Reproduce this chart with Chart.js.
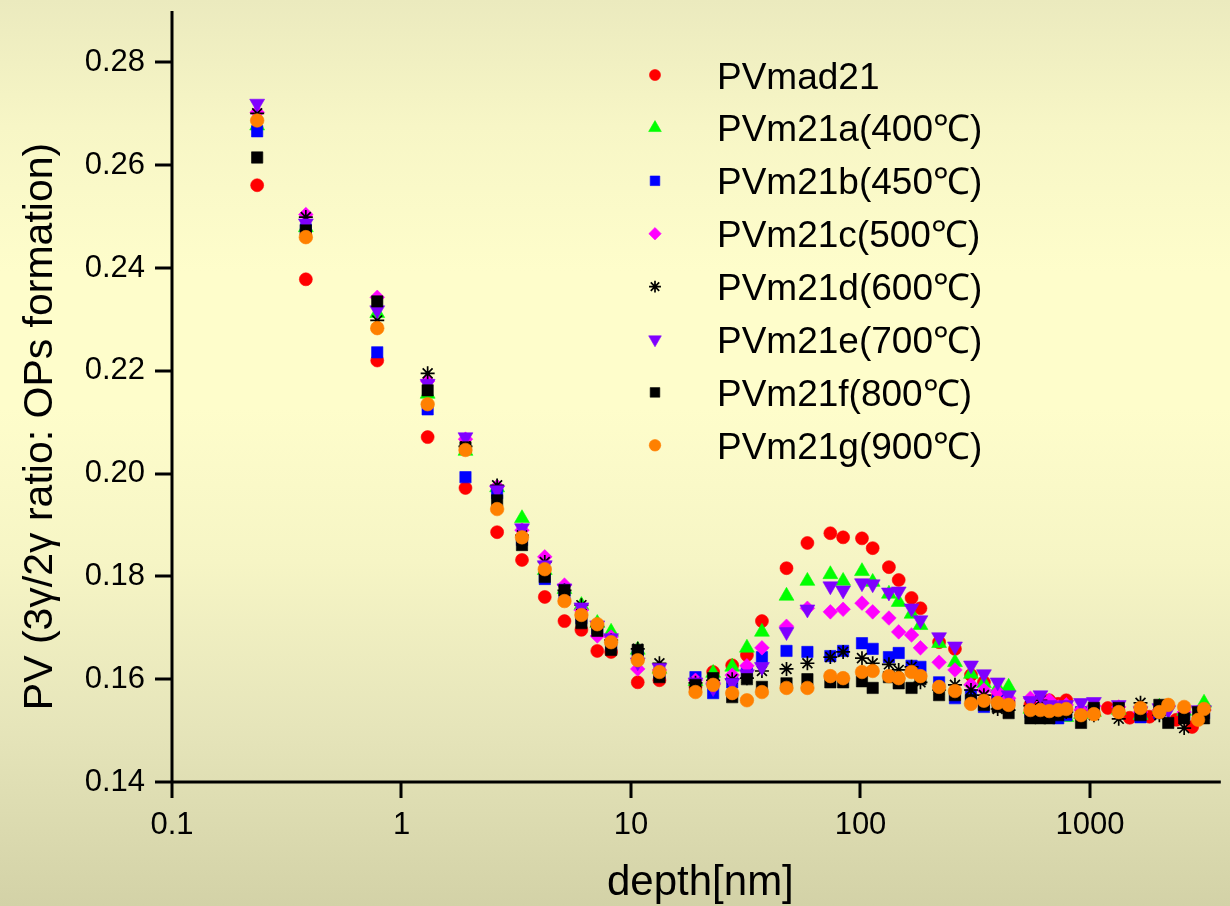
<!DOCTYPE html>
<html>
<head>
<meta charset="utf-8">
<title>PV vs depth</title>
<script src="https://cdn.jsdelivr.net/npm/chart.js@4/dist/chart.umd.min.js"></script>
<style>
  html, body { margin: 0; padding: 0; }
  body {
    width: 1230px;
    height: 906px;
    overflow: hidden;
    background: linear-gradient(to bottom, #ebeabe 0%, #f7f6c6 14%, #fefdcb 30%, #fefdcb 45%, #f6f5c5 62%, #e6e5ba 80%, #d3d2a7 100%);
  }
  canvas { display: block; }
</style>
</head>
<body>
<canvas id="pv-chart" width="1230" height="906"></canvas>
<script>
// depth [nm] of each measuring point
const depth = [
  0.235, 0.383, 0.784, 1.30, 1.90, 2.61, 3.35, 4.21, 5.13, 6.08,
  7.13, 8.19, 10.7, 13.3, 19.1, 22.8, 27.6, 32.0, 37.2, 47.6,
  58.7, 73.9, 84.0, 101.5, 113, 133, 146.7, 166.9, 182.5, 220,
  258, 303, 345, 396, 442, 550, 608, 665, 727, 788,
  914, 1040, 1196, 1334, 1489, 1660, 1816, 2006, 2193, 2376, 2572, 2786, 2958, 3140
];

const pvMad21 = [
  0.2561, 0.2378, 0.2220, 0.2071, 0.1972, 0.1886, 0.1832, 0.1760, 0.1713, 0.1696,
  0.1655, 0.1653, 0.1594, 0.1598, 0.1585, 0.1614, 0.1627, 0.1647, 0.1713, 0.1816,
  0.1865, 0.1884, 0.1876, 0.1874, 0.1855, 0.1818, 0.1793, 0.1758, 0.1738, 0.1672,
  0.1659, 0.1608, 0.1594, 0.1566, 0.1556, 0.1550, 0.1550, 0.1559, 0.1552, 0.1559,
  null, null, 0.1544, null, 0.1525, null, 0.1527, null, null, 0.1521, null, 0.1507, null, null
];
const pvM21a = [
  0.2677, 0.2479, 0.2312, 0.2155, 0.2044, 0.1973, 0.1913, 0.1812, 0.1775, 0.1744,
  0.1709, 0.1692, 0.1657, 0.1620, 0.1596, 0.1612, 0.1624, 0.1661, 0.1692, 0.1762,
  0.1791, 0.1804, 0.1791, 0.1810, 0.1789, 0.1766, 0.1750, 0.1727, 0.1705, 0.1670,
  0.1633, 0.1610, 0.1592, 0.1583, 0.1585, 0.1542, 0.1540, 0.1534, 0.1530, 0.1526,
  0.1532, 0.1536, null, 0.1540, null, 0.1530, null, 0.1546, null, null, 0.1538, null, null, 0.1554
];
const pvM21b = [
  0.2666, 0.2475, 0.2236, 0.2125, 0.1993, 0.1962, 0.1871, 0.1795, 0.1760, 0.1719,
  0.1699, 0.1666, 0.1647, 0.1612, 0.1604, 0.1573, 0.1594, 0.1612, 0.1643, 0.1655,
  0.1653, 0.1645, 0.1655, 0.1670, 0.1659, 0.1643, 0.1651, 0.1626, 0.1624, 0.1594,
  0.1563, 0.1569, 0.1546, 0.1559, 0.1552, 0.1536, 0.1536, 0.1536, 0.1524, 0.1530,
  0.1536, 0.1540, null, 0.1540, null, 0.1526, null, 0.1534, null, null, 0.1532, null, null, 0.1534
];
const pvM21c = [
  0.2703, 0.2504, 0.2343, 0.2180, 0.2067, 0.1975, 0.1890, 0.1838, 0.1783, 0.1734,
  0.1684, 0.1682, 0.1620, 0.1618, 0.1598, 0.1594, 0.1608, 0.1626, 0.1661, 0.1703,
  0.1738, 0.1731, 0.1736, 0.1748, 0.1731, 0.1719, 0.1692, 0.1686, 0.1661, 0.1633,
  0.1618, 0.1589, 0.1579, 0.1575, 0.1563, 0.1563, 0.1561, 0.1559, 0.1546, 0.1550,
  0.1540, 0.1548, null, 0.1546, null, 0.1536, null, 0.1540, null, null, 0.1536, null, null, 0.1540
];
const pvM21d = [
  0.2701, 0.2499, 0.2298, 0.2195, 0.2053, 0.1977, 0.1880, 0.1828, 0.1773, 0.1744,
  0.1703, 0.1676, 0.1659, 0.1631, 0.1593, 0.1598, 0.1600, 0.1602, 0.1616, 0.1620,
  0.1631, 0.1643, 0.1653, 0.1641, 0.1631, 0.1629, 0.1618, 0.1624, 0.1594, 0.1579,
  0.1589, 0.1579, 0.1569, 0.1542, 0.1540, 0.1548, 0.1559, 0.1540, 0.1536, 0.1536,
  0.1530, 0.1530, null, 0.1523, null, 0.1554, null, 0.1530, null, null, 0.1505, null, null, 0.1540
];
const pvM21e = [
  0.2720, 0.2487, 0.2318, 0.2175, 0.2071, 0.1968, 0.1894, 0.1822, 0.1777, 0.1740,
  0.1705, 0.1680, 0.1633, 0.1622, 0.1594, 0.1583, 0.1593, 0.1610, 0.1624, 0.1692,
  0.1736, 0.1781, 0.1773, 0.1787, 0.1785, 0.1769, 0.1771, 0.1738, 0.1715, 0.1682,
  0.1664, 0.1627, 0.1610, 0.1594, 0.1569, 0.1558, 0.1569, 0.1550, 0.1548, 0.1550,
  0.1554, 0.1556, null, 0.1550, null, 0.1538, null, 0.1544, 0.1540, null, null, null, 0.1540, 0.1540
];
const pvM21f = [
  0.2615, 0.2473, 0.2335, 0.2162, 0.2051, 0.1948, 0.1861, 0.1799, 0.1773, 0.1709,
  0.1694, 0.1657, 0.1657, 0.1604, 0.1589, 0.1602, 0.1565, 0.1600, 0.1585, 0.1592,
  0.1600, 0.1594, 0.1594, 0.1596, 0.1583, 0.1604, 0.1592, 0.1583, 0.1600, 0.1569,
  0.1569, 0.1559, 0.1550, 0.1546, 0.1534, 0.1524, 0.1524, 0.1524, 0.1530, 0.1536,
  0.1515, 0.1544, null, 0.1544, null, 0.1530, null, 0.1550, 0.1515, null, 0.1524, null, 0.1536, 0.1524
];
const pvM21g = [
  0.2687, 0.2460, 0.2283, 0.2135, 0.2046, 0.1931, 0.1876, 0.1814, 0.1752, 0.1725,
  0.1707, 0.1672, 0.1637, 0.1614, 0.1575, 0.1589, 0.1573, 0.1559, 0.1575, 0.1583,
  0.1583, 0.1606, 0.1602, 0.1614, 0.1616, 0.1606, 0.1602, 0.1614, 0.1606, 0.1585,
  0.1577, 0.1552, 0.1558, 0.1554, 0.1550, 0.1540, 0.1540, 0.1538, 0.1540, 0.1542,
  0.1530, 0.1532, null, 0.1536, null, 0.1544, null, 0.1536, 0.1550, null, 0.1546, null, 0.1521, 0.1542
];

const seriesValues = [pvMad21, pvM21a, pvM21b, pvM21c, pvM21d, pvM21e, pvM21f, pvM21g];
const seriesNames = [
  'PVmad21', 'PVm21a(400℃)', 'PVm21b(450℃)', 'PVm21c(500℃)',
  'PVm21d(600℃)', 'PVm21e(700℃)', 'PVm21f(800℃)', 'PVm21g(900℃)'
];
const seriesColors = ['#ff0000', '#00ff00', '#0000ff', '#ff00ff', '#000000', '#8000ff', '#000000', '#ff8000'];
const seriesShapes = ['circle', 'triangle', 'rect', 'rectRot', 'star', 'triangle', 'rect', 'circle'];
const seriesRotation = [0, 0, 0, 0, 0, 180, 0, 0];
const seriesRadius = [6.5, 8.6, 8, 7.3, 7, 8.6, 8, 6.8];

const xMajorTicks = [0.1, 1, 10, 100, 1000];
const xMinorSteps = [2, 3, 4, 5, 6, 7, 8, 9];
const xMax = 3715;
const yTicks = [0.14, 0.15, 0.16, 0.17, 0.18, 0.19, 0.20, 0.21, 0.22, 0.23, 0.24, 0.25, 0.26, 0.27, 0.28, 0.29];
const yLabelTicks = [0.14, 0.16, 0.18, 0.20, 0.22, 0.24, 0.26, 0.28];

const xTitle = 'depth[nm]';
const yTitle = 'PV (3γ/2γ ratio: OPs formation)';

const fontFamily = '"Liberation Sans", Arial, Helvetica, sans-serif';

// major decades plus the 2..9 minor marks inside the axis range
const xTickValues = [];
xMajorTicks.forEach(v => {
    xTickValues.push(v);
    xMinorSteps.forEach(m => {
        if (v * m <= xMax) xTickValues.push(v * m);
    });
});

const toPoints = values => depth
    .map((d, i) => ({x: d, y: values[i]}))
    .filter(p => p.y !== null);

const datasets = seriesValues.map((values, i) => ({
    label: seriesNames[i],
    data: toPoints(values),
    showLine: false,
    pointStyle: seriesShapes[i],
    pointRotation: seriesRotation[i],
    pointRadius: seriesRadius[i],
    pointBackgroundColor: seriesColors[i],
    pointBorderColor: seriesColors[i],
    pointBorderWidth: seriesShapes[i] === 'star' ? 1.7 : 0.6,
    // last series on top
    order: seriesValues.length - 1 - i
}));

// axis lines with long (labelled) and short ticks, pointing outwards
const axisPlugin = {
    id: 'axisLines',
    beforeDatasetsDraw(chart) {
        const {ctx, chartArea: a, scales: {x, y}} = chart;
        ctx.save();
        ctx.strokeStyle = '#000';
        ctx.lineWidth = 3;
        ctx.beginPath();
        ctx.moveTo(a.left, a.top);
        ctx.lineTo(a.left, a.bottom + 1.5);
        ctx.moveTo(a.left - 1.5, a.bottom);
        ctx.lineTo(a.right, a.bottom);
        x.ticks.forEach(t => {
            const px = Math.round(x.getPixelForValue(t.value));
            const len = xMajorTicks.includes(t.value) ? 16 : 9;
            ctx.moveTo(px, a.bottom);
            ctx.lineTo(px, a.bottom + len);
        });
        y.ticks.forEach(t => {
            const py = Math.round(y.getPixelForValue(t.value));
            const len = yLabelTicks.includes(t.value) ? 17 : 9;
            ctx.moveTo(a.left, py);
            ctx.lineTo(a.left - len, py);
        });
        ctx.stroke();
        ctx.restore();
    }
};

const titlePlugin = {
    id: 'axisTitles',
    afterDraw(chart, args, opts) {
        const {ctx, chartArea: a} = chart;
        ctx.save();
        ctx.fillStyle = '#000';
        ctx.textAlign = 'center';
        ctx.textBaseline = 'alphabetic';
        ctx.font = opts.xFont + ' ' + fontFamily;
        ctx.fillText(xTitle, (a.left + a.right) / 2 + opts.xShift, opts.xBaseline);
        ctx.font = opts.yFont + ' ' + fontFamily;
        ctx.translate(opts.yBaseline, (a.top + a.bottom) / 2 + opts.yShift);
        ctx.rotate(-Math.PI / 2);
        ctx.fillText(yTitle, 0, 0);
        ctx.restore();
    }
};

// legend sits inside the plot, one series per row
const legendPlugin = {
    id: 'insideLegend',
    afterDraw(chart, args, opts) {
        const ctx = chart.ctx;
        ctx.save();
        chart.data.datasets.forEach((ds, i) => {
            const cy = opts.top + i * opts.rowGap;
            ctx.fillStyle = seriesColors[i];
            ctx.strokeStyle = seriesColors[i];
            ctx.lineWidth = ds.pointBorderWidth;
            Chart.helpers.drawPoint(ctx, {
                pointStyle: ds.pointStyle,
                rotation: ds.pointRotation,
                radius: ds.pointRadius * 0.85,
                borderWidth: ds.pointBorderWidth
            }, opts.markerX, cy);
            ctx.fillStyle = '#000';
            ctx.font = opts.font + ' ' + fontFamily;
            ctx.textAlign = 'left';
            ctx.textBaseline = 'alphabetic';
            ctx.fillText(ds.label, opts.textX, cy + opts.textDrop);
        });
        ctx.restore();
    }
};

const chart = new Chart(document.getElementById('pv-chart'), {
    type: 'scatter',
    data: {datasets: datasets},
    options: {
        responsive: false,
        animation: false,
        devicePixelRatio: 1,
        events: [],
        layout: {padding: {top: 11, right: 0, bottom: 0, left: 0}},
        plugins: {
            legend: {display: false},
            tooltip: {enabled: false},
            axisTitles: {xFont: '42px', xShift: 4, xBaseline: 895, yFont: '41px', yBaseline: 52, yShift: 30},
            insideLegend: {top: 75, rowGap: 52.9, markerX: 655, textX: 717, textDrop: 13.5, font: '37px'}
        },
        scales: {
            x: {
                type: 'logarithmic',
                position: 'bottom',
                min: 0.1,
                max: xMax,
                grid: {display: false, drawTicks: false},
                border: {display: false},
                afterBuildTicks: scale => {
                    scale.ticks = xTickValues.map(v => ({value: v, major: xMajorTicks.includes(v)}));
                },
                afterFit: scale => {
                    scale.height = 124;
                    scale.paddingLeft = 0;
                    scale.paddingRight = 0;
                },
                ticks: {
                    autoSkip: false,
                    maxRotation: 0,
                    padding: 25,
                    color: '#000',
                    font: {size: 31, family: fontFamily},
                    callback: value => xMajorTicks.includes(value) ? String(value) : null
                }
            },
            y: {
                type: 'linear',
                position: 'left',
                min: 0.14,
                max: 0.29,
                grid: {display: false, drawTicks: false},
                border: {display: false},
                afterBuildTicks: scale => {
                    scale.ticks = yTicks.map(v => ({value: v}));
                },
                afterFit: scale => {
                    scale.width = 172;
                    scale.paddingTop = 0;
                    scale.paddingBottom = 0;
                },
                ticks: {
                    autoSkip: false,
                    padding: 27,
                    color: '#000',
                    font: {size: 31, family: fontFamily},
                    callback: value => yLabelTicks.includes(value) ? value.toFixed(2) : null
                }
            }
        }
    },
    plugins: [axisPlugin, titlePlugin, legendPlugin]
});
</script>
</body>
</html>
